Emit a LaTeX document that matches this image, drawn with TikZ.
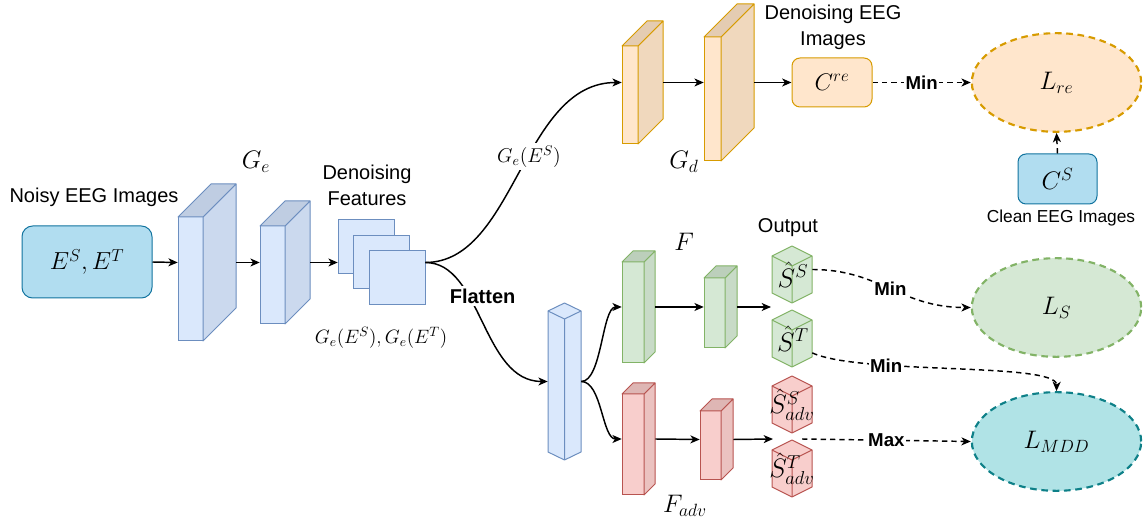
\RequirePackage{fix-cm}
\documentclass[tikz,border=0pt]{standalone}
\usepackage[no-math]{fontspec}
\setmainfont{Liberation Sans}
\usetikzlibrary{arrows.meta,fit,calc,shapes.geometric}
\definecolor{bluefront}{HTML}{DAE8FC}\definecolor{blueside}{HTML}{CBD9EE}\definecolor{bluetop}{HTML}{BFCDE2}\definecolor{bluestroke}{HTML}{6C8EBF}
\definecolor{orangefront}{HTML}{FFE6CC}\definecolor{orangeside}{HTML}{F0D8BD}\definecolor{orangetop}{HTML}{E4CCB2}\definecolor{orangestroke}{HTML}{D79B00}
\definecolor{greenfront}{HTML}{D5E8D4}\definecolor{greenside}{HTML}{C8DBC7}\definecolor{greentop}{HTML}{BCCFBB}\definecolor{greenstroke}{HTML}{82B366}
\definecolor{redfront}{HTML}{F8CECC}\definecolor{redside}{HTML}{EBC2C0}\definecolor{redtop}{HTML}{DEB6B4}\definecolor{redstroke}{HTML}{B85450}
\definecolor{inbox}{HTML}{B1DDF0}\definecolor{inboxstroke}{HTML}{10739E}
\definecolor{mddfill}{HTML}{B0E3E6}\definecolor{mddstroke}{HTML}{0E8088}
\tikzset{
  boxline/.style={line width=0.75pt},
  conn/.style={line width=1.1pt,-{Stealth[length=7pt,width=6pt,inset=2pt]}},
  dconn/.style={conn,dash pattern=on 4pt off 3pt},
  txt/.style={font=\fontsize{15}{19.5}\selectfont,align=center,inner sep=1pt},
  boldlbl/.style={font=\bfseries\fontsize{14}{16}\selectfont,fill=white,inner sep=1pt},
  mathlbl/.style={font=\fontsize{19}{22}\selectfont,inner sep=1pt},
  lossell/.style={ellipse,line width=1.6pt,dash pattern=on 5pt off 3.5pt,minimum width=127pt,minimum height=74pt,font=\fontsize{19}{22}\selectfont},
  rbox/.style={rounded corners=6pt,boxline,font=\fontsize{19}{22}\selectfont},
}
% cuboid: name, x left, y top of front, front w, front h, depth, colour prefix
\newcommand\cuboid[7]{%
  \pgfmathsetmacro\cxa{#2}\pgfmathsetmacro\cxb{#2+#4}\pgfmathsetmacro\cxc{#2+#4+#6}\pgfmathsetmacro\cxd{#2+#6}%
  \pgfmathsetmacro\cya{#3-#6}\pgfmathsetmacro\cyb{#3}\pgfmathsetmacro\cyc{#3+#5-#6}\pgfmathsetmacro\cyd{#3+#5}%
  \filldraw[fill=#7front,draw=#7stroke,boxline] (\cxa,\cyb) rectangle (\cxb,\cyd);
  \filldraw[fill=#7side,draw=#7stroke,boxline,line join=round] (\cxb,\cyb) -- (\cxc,\cya) -- (\cxc,\cyc) -- (\cxb,\cyd) -- cycle;
  \filldraw[fill=#7top,draw=#7stroke,boxline,line join=round] (\cxa,\cyb) -- (\cxd,\cya) -- (\cxc,\cya) -- (\cxb,\cyb) -- cycle;
  \node[fit={(\cxa,\cya) (\cxc,\cyd)},inner sep=0pt] (#1) {};
}
% isocube: name, centre x, top y, half width, height, d, colour prefix
\newcommand\isocube[7]{%
  \pgfmathsetmacro\ixl{#2-#4}\pgfmathsetmacro\ixr{#2+#4}%
  \pgfmathsetmacro\iya{#3+#6}\pgfmathsetmacro\iyb{#3+2*#6}\pgfmathsetmacro\iyc{#3+#5-#6}\pgfmathsetmacro\iyd{#3+#5}%
  \filldraw[fill=#7front,draw=#7stroke,boxline,line join=round] (#2,#3) -- (\ixr,\iya) -- (\ixr,\iyc) -- (#2,\iyd) -- (\ixl,\iyc) -- (\ixl,\iya) -- cycle;
  \draw[#7stroke,boxline,line join=round] (\ixl,\iya) -- (#2,\iyb) -- (\ixr,\iya) (#2,\iyb) -- (#2,\iyd);
  \node[fit={(\ixl,#3) (\ixr,\iyd)},inner sep=0pt] (#1) {};
}
\begin{document}
\begin{tikzpicture}[x=0.75pt,y=-0.75pt]
\useasboundingbox (0,0) rectangle (1143,523);

% input
\node[rbox,rounded corners=8pt,fill=inbox,draw=inboxstroke,minimum width=97.5pt,minimum height=54pt,font=\fontsize{18.5}{22}\selectfont] (noisy) at (87,262) {$E^S, E^T$};
\node[txt] (noisyt) at (94,197) {Noisy EEG Images};

% encoder
\cuboid{ge1}{178}{217}{25}{124}{33}{blue}
\cuboid{ge2}{260}{226}{25}{98}{25}{blue}
\node[mathlbl] (gel) at (256,162) {$G_e$};

% features
\filldraw[fill=bluefront,draw=bluestroke,boxline] (338,220) rectangle (394,274);
\filldraw[fill=bluefront,draw=bluestroke,boxline] (353,236) rectangle (409,289);
\filldraw[fill=bluefront,draw=bluestroke,boxline] (369,251) rectangle (425,305);
\node[fit={(338,220) (425,305)},inner sep=0pt] (feat) {};
\node[txt] (featt) at (367,185) {Denoising\\Features};
\node[font=\fontsize{14.5}{16}\selectfont,inner sep=1pt] (featl) at (381,338) {$G_e(E^S), G_e(E^T)$};

\draw[conn] (noisy.east) -- (ge1.west);
\draw[conn] (ge1.east) -- (ge2.west);
\draw[conn] (ge2.east) -- (feat.west);

% decoder
\cuboid{gd1}{622}{46}{16}{98}{25}{orange}
\cuboid{gd2}{704}{37}{17}{124}{33}{orange}
\node[mathlbl] (gdl) at (684,162) {$G_d$};
\node[rbox,fill=orangefront,draw=orangestroke,minimum width=60pt,minimum height=36.75pt,font=\fontsize{18}{21}\selectfont] (cre) at (832,82.5) {$C^{re}$};
\node[txt] (cret) at (833,27) {Denoising EEG\\Images};
\draw[conn] (feat.east) .. controls (515,262.5) and (522,82.5) .. node[pos=0.56,fill=white,inner sep=2pt,font=\fontsize{15}{17}\selectfont] (gees) {$G_e(E^S)$} (gd1.west);
\draw[conn] (gd1.east) -- (gd2.west);
\draw[conn] (gd2.east) -- (cre.west);

% reconstruction loss
\node[lossell,fill=orangefront,draw=orangestroke] (lre) at (1056.5,82.5) {$L_{re}$};
\node[rbox,fill=inbox,draw=inboxstroke,minimum width=59.25pt,minimum height=37.5pt] (cs) at (1057.5,179) {$C^S$};
\node[font=\fontsize{13}{15}\selectfont,inner sep=1pt] (cst) at (1061,218) {Clean EEG Images};
\draw[dconn] (cre.east) -- node[boldlbl] (min1) {Min} (lre.west);
\draw[dconn] (cs.north) -- (lre.south);

% flatten
\isocube{flat}{564.5}{303}{16.5}{157}{8}{blue}
\draw[conn] (feat.east) .. controls (482,262.5) and (482,381.5) .. node[pos=0.35,xshift=10pt,fill=white,font=\bfseries\fontsize{15}{17}\selectfont,inner sep=2pt] (flatl) {Flatten} (flat.west);

% classifier F
\cuboid{f1}{622}{262}{22}{101}{11}{green}
\cuboid{f2}{704}{278}{21}{70}{12}{green}
\node[mathlbl] (fl) at (684,242) {$F$};
% adversarial F
\cuboid{fa1}{622}{394}{22}{101}{11}{red}
\cuboid{fa2}{700}{411}{21}{69}{12}{red}
\node[mathlbl] (fal) at (685,506) {$F_{adv}$};

\draw[conn] (flat.east) .. controls (602,381.5) and (602,307) .. (f1.west);
\draw[conn] (flat.east) .. controls (602,381.5) and (602,439) .. (fa1.west);
\draw[conn] (f1.east) -- (f2.west);
\draw[conn] (fa1.east) -- (fa2.west);
\coordinate (gout) at (771,307);
\coordinate (rout) at (773,439);
\draw[conn] (f2.east) -- (gout);
\draw[conn] (fa2.east) -- (rout);

% outputs
\node[txt] (outt) at (788,228) {Output};
\isocube{ss}{792}{246}{20}{57}{10}{green}
\isocube{st}{792}{310}{20}{57}{10}{green}
\isocube{ssa}{792}{376}{20}{57}{10}{red}
\isocube{sta}{792}{440}{20}{57}{10}{red}
\begin{scope}[every node/.style={font=\fontsize{20}{22}\selectfont,inner sep=0pt}]
\node (ssl) at ($(ss.center)+(1,0)$) {$\hat S^S$};
\node (stl) at ($(st.center)+(1,0)$) {$\hat S^T$};
\node (ssal) at ($(ssa.center)+(0,0)$) {$\hat S^S_{adv}$};
\node (stal) at ($(sta.center)+(0,0)$) {$\hat S^T_{adv}$};
\end{scope}

% losses
\node[lossell,fill=greenfront,draw=greenstroke] (ls) at (1056.5,307.5) {$L_S$};
\node[lossell,fill=mddfill,draw=mddstroke] (lmdd) at (1056.5,441.5) {$L_{MDD}$};

\draw[dconn] ($(ss.east)+(0,-5)$) .. controls (880,269.5) and (900,307.5) .. node[boldlbl,pos=0.5] (min2) {Min} (ls.west);
\draw[dconn] ($(st.east)!0.5!(st.south east)$) .. controls (860,375) and (1057,362) .. node[boldlbl,pos=0.3] (min3) {Min} (lmdd.north);
\coordinate (maxs) at (802,439);
\draw[dconn] (maxs) -- node[boldlbl] (maxl) {Max} (lmdd.west);
\end{tikzpicture}
\end{document}
